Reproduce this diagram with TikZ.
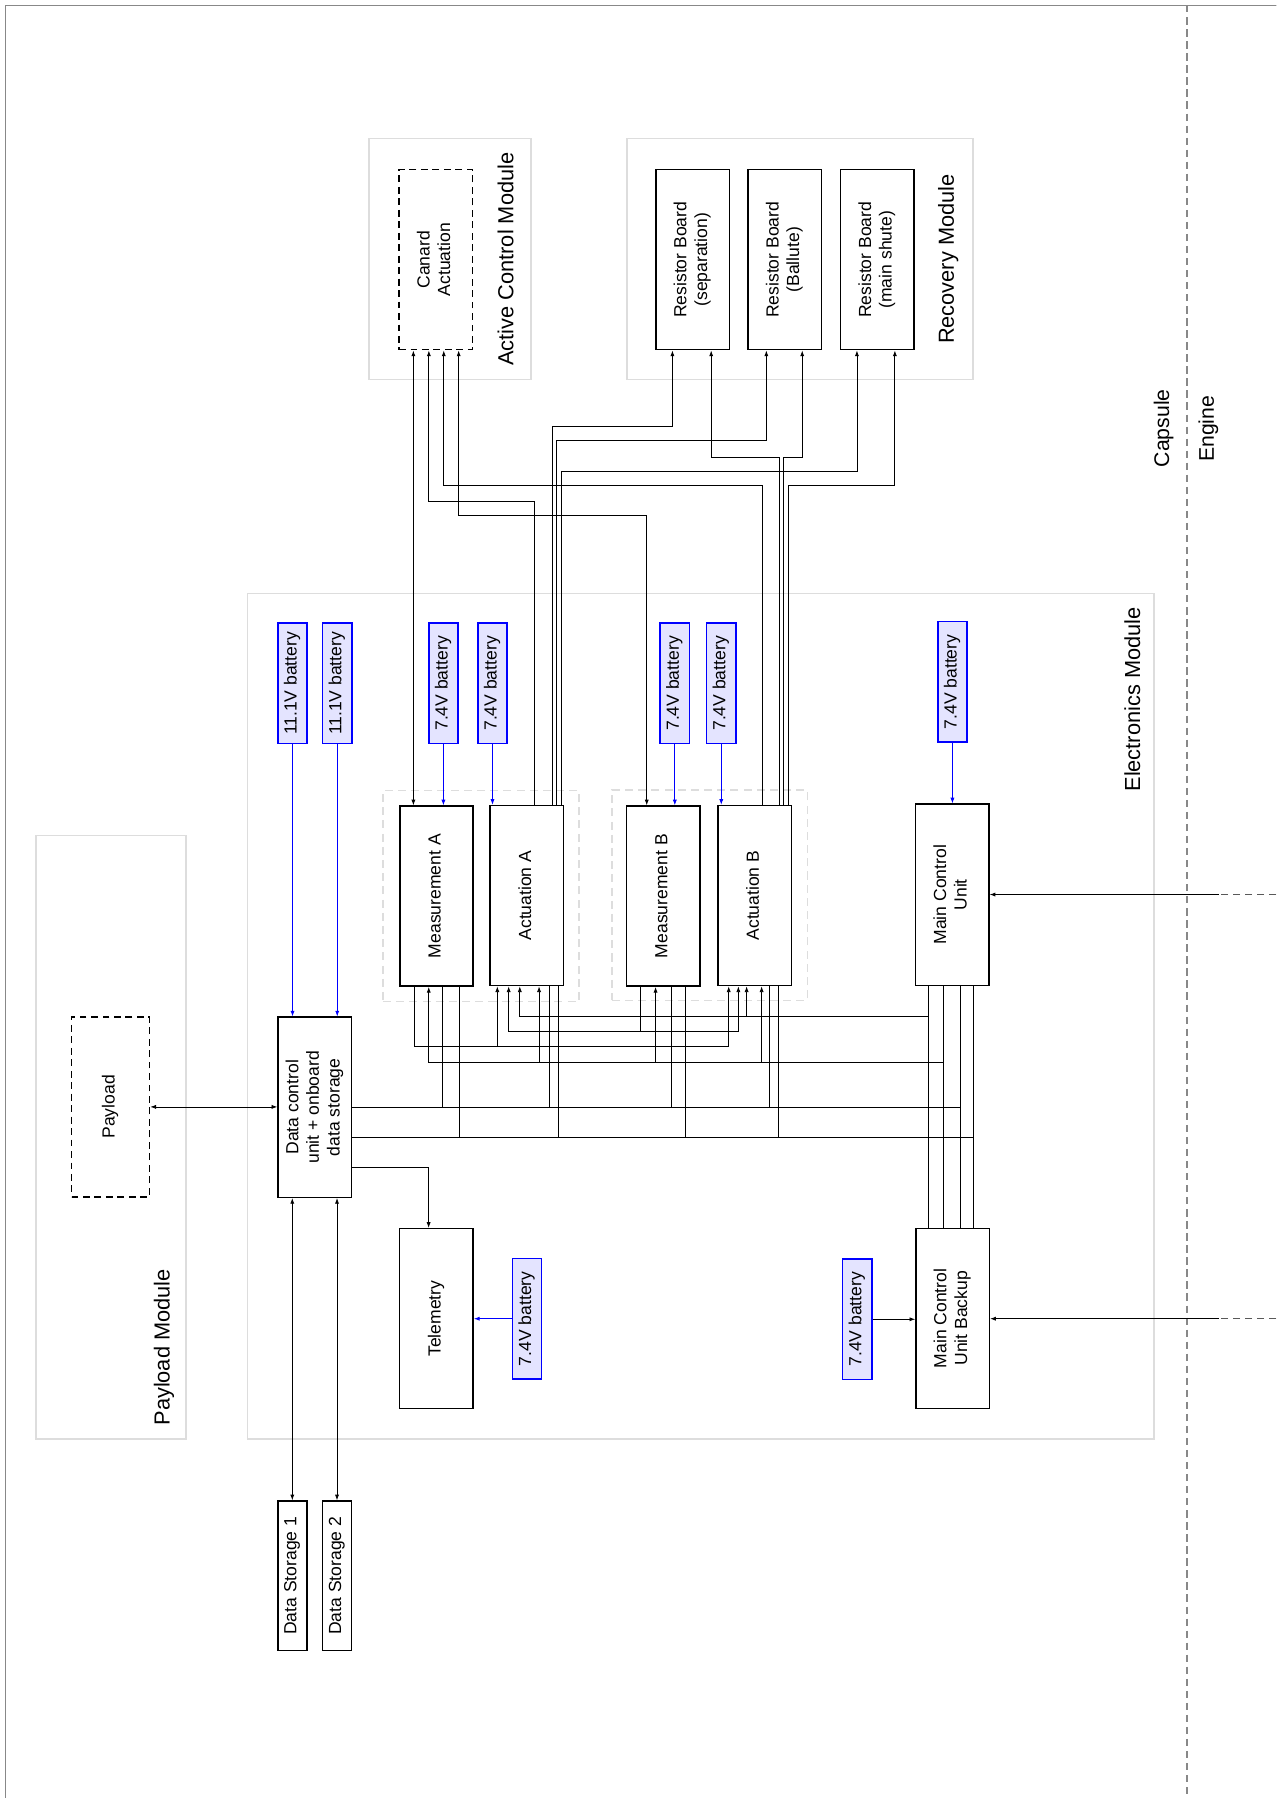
\documentclass[tikz,border=0pt]{standalone}
\usepackage{fontspec}
\setmainfont{Liberation Sans}
\usetikzlibrary{arrows.meta}
\definecolor{modgray}{HTML}{DDDDDD}
\definecolor{framegray}{HTML}{888888}
\definecolor{battfill}{HTML}{E4E4FF}
\definecolor{battblue}{HTML}{0000FF}
\newcommand\bodyfont{\fontsize{15.3}{18}\selectfont}
\newcommand\labfont{\fontsize{19}{22}\selectfont}
\newcommand\sidefont{\fontsize{18.5}{22}\selectfont}
\newcommand\rt[1]{\rotatebox{90}{\begin{tabular}{@{}c@{}}#1\end{tabular}}}
\begin{document}
\begin{tikzpicture}[x=1pt,y=-1pt,
  >={Latex[length=5pt,width=3.6pt]},
  box/.style={draw=black, line width=1.3pt, minimum width=64pt, minimum height=157pt, inner sep=0pt, font=\bodyfont},
  dbox/.style={box, dashed, dash pattern=on 6pt off 4pt},
  batt/.style={draw=battblue, fill=battfill, line width=1.3pt, minimum width=25.5pt, minimum height=105pt, inner sep=0pt, font=\bodyfont},
  store/.style={draw=black, line width=1.3pt, minimum width=25.3pt, minimum height=130.3pt, inner sep=0pt, font=\bodyfont},
  module/.style={draw=modgray, line width=1.3pt, inner sep=0pt},
  group/.style={draw=modgray, line width=1.3pt, dashed, dash pattern=on 7pt off 4.5pt, inner sep=0pt},
  lab/.style={font=\labfont, inner sep=0pt},
  side/.style={font=\sidefont, inner sep=0pt},
  conn/.style={line width=0.7pt, draw=black},
  bconn/.style={line width=0.7pt, draw=battblue},
  extdash/.style={line width=0.9pt, draw=black!65, dashed, dash pattern=on 6.5pt off 4pt},
  vdash/.style={line width=1.2pt, draw=framegray, dashed, dash pattern=on 6.4pt off 4.1pt}
]
\useasboundingbox (0,0) rectangle (1113,1568);
\begin{scope}
\clip (0,0) rectangle (1113,1568);
% outer frame
\draw[framegray, line width=1pt] (4.5,1600) -- (4.5,4.5) -- (1200,4.5);
\coordinate (vtop) at (1035,4.5);
\coordinate (vbot) at (1035,1568);
\draw[vdash] (vtop) -- (vbot);
\end{scope}
\node[side] (capsule) at (1014.8,373.5) {\rotatebox{90}{Capsule}};
\node[side] (engine) at (1053.8,374) {\rotatebox{90}{Engine}};

% module frames
\node[module, minimum width=141pt, minimum height=210pt] (acm) at (392.5,226) {};
\node[module, minimum width=301.7pt, minimum height=210pt] (rec) at (697.85,226) {};
\node[module, minimum width=790.5pt, minimum height=737.1pt] (elec) at (611.25,886.15) {};
\node[module, minimum width=130.5pt, minimum height=526.6pt] (pmod) at (96.75,991.7) {};
\node[group, minimum width=171pt, minimum height=184pt] (grpA) at (419.5,781.5) {};
\node[group, minimum width=170.5pt, minimum height=183.5pt] (grpB) at (618.75,780.75) {};

\node[lab] (acmL) at (441,226) {\rotatebox{90}{Active Control Module}};
\node[lab] (recL) at (827,226) {\rotatebox{90}{Recovery Module}};
\node[lab] (elecL) at (987.5,610) {\rotatebox{90}{Electronics Module}};
\node[lab] (pmodL) at (143,1175) {\rotatebox{90}{Payload Module}};

% boxes
\node[dbox] (canard) at (380,226.5) {\rt{Canard\\Actuation}};
\node[box] (rb1) at (604,226.5) {\rt{Resistor Board\\(separation)}};
\node[box] (rb2) at (684.4,226.5) {\rt{Resistor Board\\(Ballute)}};
\node[box] (rb3) at (765,226.5) {\rt{Resistor Board\\(main shute)}};

\node[box] (measA) at (380.7,781.5) {\rt{Measurement A}};
\node[box] (actA) at (459.5,781) {\rt{Actuation A}};
\node[box] (measB) at (578.5,781.5) {\rt{Measurement B}};
\node[box] (actB) at (658.2,781) {\rt{Actuation B}};
\node[box, minimum height=158pt] (mcu) at (830.4,780.3) {\rt{Main Control\\Unit}};
\node[box] (bak) at (830.8,1149.7) {\rt{Main Control\\Unit Backup}};
\node[box] (tel) at (380.6,1150) {\rt{Telemetry}};
\node[box] (dcu) at (274.5,965.6) {\rt{Data control\\unit + onboard\\data storage}};
\node[dbox, minimum width=68pt] (payload) at (96.4,965.3) {\rt{Payload}};
\node[store] (ds1) at (254.9,1374.2) {\rt{Data Storage 1}};
\node[store] (ds2) at (293.9,1374.2) {\rt{Data Storage 2}};

% batteries
\node[batt] (b111a) at (255.1,596) {\rt{11.1V battery}};
\node[batt] (b111b) at (294.1,596) {\rt{11.1V battery}};
\node[batt] (bMA) at (386.7,596) {\rt{7.4V battery}};
\node[batt] (bAA) at (429.5,596) {\rt{7.4V battery}};
\node[batt] (bMB) at (588.5,596) {\rt{7.4V battery}};
\node[batt] (bAB) at (629,596) {\rt{7.4V battery}};
\node[batt] (bMCU) at (830.6,594.7) {\rt{7.4V battery}};
\node[batt] (bTel) at (459.6,1150) {\rt{7.4V battery}};
\node[batt] (bBak) at (747.6,1150.5) {\rt{7.4V battery}};

% battery connectors
\draw[bconn,->] (b111a.south) -- (b111a.south |- dcu.north);
\draw[bconn,->] (b111b.south) -- (b111b.south |- dcu.north);
\draw[bconn,->] (bMA.south) -- (bMA.south |- measA.north);
\draw[bconn,->] (bAA.south) -- (bAA.south |- actA.north);
\draw[bconn,->] (bMB.south) -- (bMB.south |- measB.north);
\draw[bconn,->] (bAB.south) -- (bAB.south |- actB.north);
\draw[bconn,->] (bMCU.south) -- (bMCU.south |- mcu.north);
\draw[bconn,->] (bTel.west) -- (bTel.west -| tel.east);
\draw[conn,->] (bBak.east) -- (bBak.east -| bak.west);

% canard wiring
\draw[conn,<->] (360.5,0 |- canard.south) -- (360.5,0 |- measA.north);
\draw[conn,->] (466.4,0 |- actA.north) |- (374,437.6) -- (374,0 |- canard.south);
\draw[conn,->] (664.5,0 |- actB.north) |- (387,423) -- (387,0 |- canard.south);
\draw[conn,<->] (400,0 |- canard.south) |- (564,449.8) -- (564,0 |- measB.north);

% recovery wiring
\draw[conn,->] (482,0 |- actA.north) |- (586.4,371.6) -- (586.4,0 |- rb1.south);
\draw[conn,->] (485.6,0 |- actA.north) |- (668.3,384.4) -- (668.3,0 |- rb2.south);
\draw[conn,->] (489.3,0 |- actA.north) |- (747.3,410.9) -- (747.3,0 |- rb3.south);
\draw[conn,->] (679.3,0 |- actB.north) |- (620.2,398.9) -- (620.2,0 |- rb1.south);
\draw[conn,->] (683.3,0 |- actB.north) |- (699.6,398.9) -- (699.6,0 |- rb2.south);
\draw[conn,->] (687.9,0 |- actB.north) |- (780.4,423) -- (780.4,0 |- rb3.south);

% main control bus to backup
\draw[conn] (809.9,0 |- mcu.south) -- (809.9,0 |- bak.north);
\draw[conn] (823,0 |- mcu.south) -- (823,0 |- bak.north);
\draw[conn] (837.7,0 |- mcu.south) -- (837.7,0 |- bak.north);
\draw[conn] (849,0 |- mcu.south) -- (849,0 |- bak.north);

% level 1
\coordinate (j1) at (809.9,886.2);
\draw[conn,->] (j1) -| (453.3,0 |- actA.south);
\draw[conn,->] (651.1,886.2) -- (651.1,0 |- actB.south);
% level 2
\coordinate (j2) at (558.9,899.3);
\draw[conn] (558.9,0 |- measB.south) -- (j2);
\draw[conn,->] (j2) -| (443.6,0 |- actA.south);
\draw[conn,->] (j2) -| (643.9,0 |- actB.south);
% level 3
\coordinate (j3) at (433.7,912.7);
\draw[conn,->] (361.4,0 |- measA.south) |- (j3) -- (433.7,0 |- actA.south);
\draw[conn,->] (j3) -| (635.5,0 |- actB.south);
% level 4
\coordinate (j4) at (823,926.1);
\draw[conn,->] (j4) -| (373.9,0 |- measA.south);
\draw[conn,->] (470.1,926.1) -- (470.1,0 |- actA.south);
\draw[conn,->] (571.7,926.1) -- (571.7,0 |- measB.south);
\draw[conn,->] (664.2,926.1) -- (664.2,0 |- actB.south);
% level 5 (data bus)
\draw[conn] (dcu.east) -- (837.7,0 |- dcu.east);
\draw[conn] (385.4,0 |- measA.south) -- (385.4,0 |- dcu.east);
\draw[conn] (479.4,0 |- actA.south) -- (479.4,0 |- dcu.east);
\draw[conn] (585.4,0 |- measB.south) -- (585.4,0 |- dcu.east);
\draw[conn] (671.1,0 |- actB.south) -- (671.1,0 |- dcu.east);
% level 6
\coordinate (j6) at (849,991.5);
\draw[conn] (dcu.east |- j6) -- (j6);
\draw[conn] (400.3,0 |- measA.south) -- (400.3,991.5);
\draw[conn] (486.9,0 |- actA.south) -- (486.9,991.5);
\draw[conn] (597.9,0 |- measB.south) -- (597.9,991.5);
\draw[conn] (678.8,0 |- actB.south) -- (678.8,991.5);

% data control unit links
\draw[conn,->] (dcu.east |- 0,1018.3) -| (373.8,0 |- tel.north);
\draw[conn,<->] (payload.east) -- (payload.east -| dcu.west);
\draw[conn,<->] (ds1.north) -- (ds1.north |- dcu.south);
\draw[conn,<->] (ds2.north) -- (ds2.north |- dcu.south);

% external engine links
\coordinate (eA) at (1113,780.1);
\coordinate (eB) at (1113,1150);
\draw[extdash] (eA) -- (1063,780.1);
\draw[conn,->] (1063,780.1) -- (1063,780.1 -| mcu.east);
\draw[extdash] (eB) -- (1063,1150);
\draw[conn,->] (1063,1150) -- (1063,1150 -| bak.east);
\end{tikzpicture}
\end{document}
